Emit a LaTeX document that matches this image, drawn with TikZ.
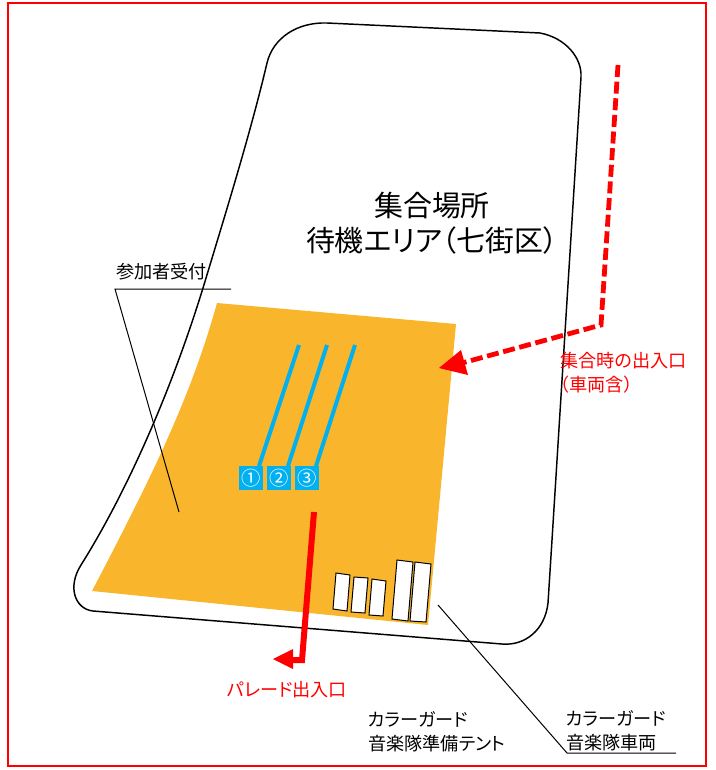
\documentclass[tikz,border=0pt]{standalone}
\usepackage{fontspec}
\setmainfont[RawFeature=+palt]{Noto Sans CJK JP}
\usepackage{xcolor}
\usetikzlibrary{arrows,shapes,positioning,calc}
\definecolor{ground}{HTML}{F9B62C}
\definecolor{lane}{HTML}{00B0F0}
\tikzset{
    tent/.style={draw, fill=white, line width=0.75pt},
    leader/.style={draw, line width=0.75pt},
    lanemark/.style={fill=lane, text=white, minimum size=18pt, inner sep=0pt, font=\fontsize{14.5}{14.5}\selectfont},
    lanerun/.style={draw=lane, line width=3pt},
    redway/.style={draw=red, line width=3.6pt},
    note/.style={align=left, anchor=west, inner sep=0pt, font=\fontsize{13.6}{18}\selectfont},
    rednote/.style={note, text=red}
}
\begin{document}
\begin{tikzpicture}[x=0.75pt, y=-0.75pt]
    \useasboundingbox (0, 0) rectangle (715, 770);
    \draw[red, line width=1.5pt] (8, 3) rectangle (706, 766);

    % Area outline
    \draw[line width=1.1pt] (327, 23) -- (540, 33)
        .. controls (566, 38) and (582, 58) .. (581, 77)
        -- (552, 540) -- (548, 603)
        .. controls (545, 630) and (525, 646) .. (502, 644)
        -- (93, 611)
        .. controls (75, 609) and (67, 587) .. (81, 565)
        .. controls (125, 495) and (170, 395) .. (203, 288)
        .. controls (225, 215) and (250, 135) .. (267, 63)
        .. controls (273, 38) and (297, 22) .. (327, 23) -- cycle;

    % Ground
    \fill[ground] (217, 303) -- (456, 324) -- (428, 625) -- (92, 591)
        .. controls (150, 480) and (190, 400) .. (217, 303) -- cycle;

    % Tents and vehicles
    \draw[tent] (336, 573) -- (350, 575) -- (347, 611) -- (333, 609) -- cycle;
    \draw[tent] (354, 577) -- (368, 578) -- (365, 613) -- (351, 612) -- cycle;
    \draw[tent] (372, 579) -- (386, 581) -- (383, 616) -- (369, 615) -- cycle;
    \draw[tent] (397, 560) -- (413, 562) -- (408, 621) -- (392, 619) -- cycle;
    \draw[tent] (415, 562) -- (431, 564) -- (426, 622) -- (410, 621) -- cycle;

    % Lanes
    \node[lanemark] (m1) at (251, 478) {①};
    \node[lanemark] (m2) at (279, 478) {②};
    \node[lanemark] (m3) at (307, 478) {③};
    \coordinate (l1) at (299, 345);
    \coordinate (l2) at (327, 345);
    \coordinate (l3) at (355, 345);
    \coordinate (n1) at (259, 466);
    \coordinate (n2) at (288, 466);
    \coordinate (n3) at (316, 466);
    \draw[lanerun] (l1) -- (n1);
    \draw[lanerun] (l2) -- (n2);
    \draw[lanerun] (l3) -- (n3);

    % Red ways
    \coordinate (g1) at (618, 65);
    \coordinate (g2) at (601, 325);
    \coordinate (g3) at (462, 363);
    \draw[redway, dash pattern=on 9pt off 3.5pt] (g1) -- (g2) -- (g3);
    \fill[red] (439, 368) -- (461, 350) -- (468, 375) -- cycle;
    \coordinate (p1) at (314, 512);
    \coordinate (p2) at (302, 660);
    \coordinate (p3) at (290, 660);
    \draw[redway, line width=4.5pt, line join=miter] (p1) -- (p2) -- (p3);
    \fill[red] (273, 659) -- (293, 649) -- (293, 669) -- cycle;

    % Leaders
    \coordinate (a1) at (231, 289);
    \coordinate (a2) at (115, 289);
    \coordinate (a3) at (179, 512);
    \draw[leader] (a1) -- (a2) -- (a3);
    \coordinate (b1) at (676, 753);
    \coordinate (b2) at (567, 753);
    \coordinate (b3) at (438, 605);
    \draw[leader] (b1) -- (b2) -- (b3);

    % Labels
    \node[align=center, font=\fontsize{21.7}{26}\selectfont] (area) at (432, 223) {集合場所\\待機エリア（七街区）};
    \node[note] (desk) at (116, 272) {参加者受付};
    \node[rednote] (gate) at (560, 373) {集合時の出入口\\（車両含）};
    \node[rednote] (parade) at (227, 690) {パレード出入口};
    \node[note] (tentnote) at (368, 732) {カラーガード\\音楽隊準備テント};
    \node[note] (carnote) at (566, 731) {カラーガード\\音楽隊車両};
\end{tikzpicture}
\end{document}
